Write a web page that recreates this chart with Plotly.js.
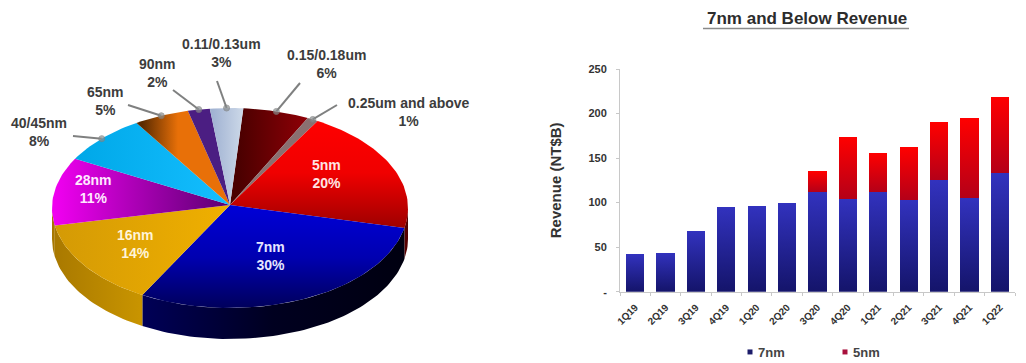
<!DOCTYPE html>
<html>
<head>
<meta charset="utf-8">
<script src="https://cdn.plot.ly/plotly-3.0.1.min.js"></script>
<style>html,body{margin:0;padding:0;background:#fff}#chart{width:1026px;height:363px}</style>
</head>
<body>
<div id="chart"></div>
<script>
// Revenue share by process node, clockwise from the top of the disc
const nodes = ['0.15/0.18um', '0.25um and above', '5nm', '7nm', '16nm', '28nm', '40/45nm', '65nm', '90nm', '0.11/0.13um'];
const shares = [6, 1, 20, 30, 14, 11, 8, 5, 2, 3];

// Quarterly 7nm and 5nm revenue in NT$B
const quarters = ['1Q19','2Q19','3Q19','4Q19','1Q20','2Q20','3Q20','4Q20','1Q21','2Q21','3Q21','4Q21','1Q22'];
const revenue7nm = [42, 44, 68, 95, 96, 100, 112, 104, 112, 103, 125, 105, 133];
const revenue5nm = [0, 0, 0, 0, 0, 0, 23, 70, 44, 59, 65, 90, 86];
const yTickValues = [0, 50, 100, 150, 200, 250];
const yTickLabels = ['-', '50', '100', '150', '200', '250'];

// Disc geometry, in the pixel-scaled units of the hidden pie axes
const disc = {cx: 230, cy: 208, rx: 178, ry: 100, depth: 31, apexY: 205, startDeg: 4.3};

// Gradient of each slice's top face and of its visible side wall
const faces = {
  '0.15/0.18um':      {type: 'horizontal', start: 238, stop: 305, colors: ['#4a0000', '#8c0006']},
  '0.25um and above': {type: 'horizontal', start: 300, stop: 330, colors: ['#8a7070', '#8a7070']},
  '5nm':              {type: 'vertical',   start: 120, stop: 226, colors: ['#ff0000', '#f00000', '#a00000']},
  '7nm':              {type: 'vertical',   start: 205, stop: 310, colors: ['#0000d8', '#0000b0', '#000058']},
  '16nm':             {type: 'horizontal', start: 55,  stop: 230, colors: ['#d49a05', '#f0b000']},
  '28nm':             {type: 'horizontal', start: 55,  stop: 230, colors: ['#f000f0', '#5a0070']},
  '40/45nm':          {type: 'horizontal', start: 78,  stop: 230, colors: ['#00a8e8', '#14beff']},
  '65nm':             {type: 'horizontal', start: 142, stop: 178, colors: ['#5a2a00', '#e87008']},
  '90nm':             {type: 'horizontal', start: 190, stop: 225, colors: ['#4b1e82', '#4b1e82']},
  '0.11/0.13um':      {type: 'horizontal', start: 212, stop: 243, colors: ['#a0b2d2', '#ccd8e8']}
};
const walls = {
  '5nm':  {start: 395, stop: 408, colors: ['#7a0000', '#500000']},
  '7nm':  {start: 140, stop: 405, colors: ['#000058', '#000020', '#000010']},
  '16nm': {start: 52,  stop: 140, colors: ['#a87800', '#c89400']},
  '28nm': {start: 52,  stop: 56,  colors: ['#a87800', '#a87800']}
};

// Where each label sits; outside labels also carry the outer end of their leader line
const placement = {
  '0.15/0.18um':      {x: 326, y: 64,  color: '#3c3c3c', lead: [300, 83]},
  '0.25um and above': {x: 409, y: 112, color: '#3c3c3c', lead: [337, 105]},
  '5nm':              {x: 326, y: 174, color: '#ffe4e4'},
  '7nm':              {x: 270, y: 256, color: '#e6e6ff'},
  '16nm':             {x: 135, y: 244, color: '#fff4d8'},
  '28nm':             {x: 93,  y: 189, color: '#ffe8ff'},
  '40/45nm':          {x: 39,  y: 132, color: '#3c3c3c', lead: [73, 136]},
  '65nm':             {x: 105, y: 101, color: '#3c3c3c', lead: [128, 105]},
  '90nm':             {x: 157, y: 73,  color: '#3c3c3c', lead: [173, 90]},
  '0.11/0.13um':      {x: 221, y: 53,  color: '#3c3c3c', lead: [217, 81]}
};

const rimPoint = (deg, drop) => {
  const t = deg * Math.PI / 180;
  return [disc.cx + disc.rx * Math.sin(t), disc.cy - disc.ry * Math.cos(t) + (drop || 0)];
};
const arc = (from, to, drop) => {
  const pts = [];
  const steps = Math.max(2, Math.ceil(Math.abs(to - from) / 1.5));
  for (let i = 0; i <= steps; i++) pts.push(rimPoint(from + (to - from) * i / steps, drop));
  return pts;
};
const gradient = g => ({
  type: g.type || 'horizontal',
  start: g.start,
  stop: g.stop,
  colorscale: g.colors.map((c, i) => [i / (g.colors.length - 1), c])
});
const polygon = (pts, g) => ({
  type: 'scatter', mode: 'lines', xaxis: 'x', yaxis: 'y',
  x: pts.map(p => p[0]), y: pts.map(p => p[1]),
  fill: 'toself', fillgradient: gradient(g),
  line: {width: 0}, showlegend: false, hoverinfo: 'skip'
});

const total = shares.reduce((a, b) => a + b, 0);
const wallTraces = [], faceTraces = [], leaderTraces = [], annotations = [];
let angle = disc.startDeg;
nodes.forEach((name, i) => {
  const sweep = shares[i] / total * 360;
  const from = angle, to = angle + sweep;
  angle = to;

  // Only the front half of the rim shows a side wall
  const wFrom = Math.max(from, 90), wTo = Math.min(to, 270);
  if (wTo > wFrom && walls[name]) {
    wallTraces.push(polygon(arc(wFrom, wTo, 0).concat(arc(wTo, wFrom, disc.depth)), walls[name]));
  }
  faceTraces.push(polygon([[disc.cx, disc.apexY]].concat(arc(from, to, 0)), faces[name]));

  const place = placement[name];
  annotations.push({
    xref: 'x', yref: 'y', x: place.x, y: place.y, xanchor: 'center', yanchor: 'middle',
    showarrow: false, align: 'center',
    text: name + '<br>' + shares[i] + '%',
    font: {family: 'Liberation Sans, Arial, sans-serif', size: 14, weight: 'bold', color: place.color}
  });
  if (place.lead) {
    const end = rimPoint((from + to) / 2, 0);
    leaderTraces.push({
      type: 'scatter', mode: 'lines+markers', xaxis: 'x', yaxis: 'y',
      x: [place.lead[0], end[0]], y: [place.lead[1], end[1]],
      line: {color: '#7f8080', width: 2},
      marker: {color: '#8a8f90', size: [0, 6]},
      showlegend: false, hoverinfo: 'skip'
    });
  }
});

const barTraces = [
  {type: 'bar', name: '7nm', x: quarters, y: revenue7nm, xaxis: 'x2', yaxis: 'y2', marker: {color: '#24249a'}, hoverinfo: 'x+y+name'},
  {type: 'bar', name: '5nm', x: quarters, y: revenue5nm, xaxis: 'x2', yaxis: 'y2', marker: {color: '#e00010'}, hoverinfo: 'x+y+name'}
];

annotations.push({
  xref: 'paper', yref: 'paper', x: 807 / 1026, y: 1 - 19 / 363, xanchor: 'center', yanchor: 'middle',
  showarrow: false,
  text: '7nm and Below Revenue',
  font: {family: 'Liberation Sans, Arial, sans-serif', size: 17, weight: 'bold', color: '#2c2c2c'}
});

const axisFont = {family: 'Liberation Sans, Arial, sans-serif', size: 10, weight: 'bold', color: '#333333'};
const layout = {
  width: 1026, height: 363,
  margin: {l: 0, r: 0, t: 0, b: 0, autoexpand: false},
  paper_bgcolor: '#ffffff', plot_bgcolor: 'rgba(0,0,0,0)',
  barmode: 'stack', bargap: 0.4,
  showlegend: true,
  legend: {
    orientation: 'h', traceorder: 'normal', x: 718 / 1026, y: 1 - 352 / 363, xanchor: 'left', yanchor: 'middle',
    entrywidth: 50, entrywidthmode: 'pixels', itemwidth: 30,
    font: {family: 'Liberation Sans, Arial, sans-serif', size: 13, weight: 'bold', color: '#444444'}
  },
  xaxis: {domain: [0, 0.5], range: [0, 513], visible: false, fixedrange: true},
  yaxis: {domain: [0, 1], range: [363, 0], visible: false, fixedrange: true},
  xaxis2: {
    domain: [620 / 1026, 1015 / 1026], anchor: 'y2', type: 'category',
    showline: true, linecolor: '#c8c8c8', linewidth: 1,
    ticks: 'outside', ticklen: 3, tickcolor: '#c8c8c8', tickson: 'boundaries',
    tickangle: -45, tickfont: axisFont, ticklabelstandoff: 5, showgrid: false, fixedrange: true
  },
  yaxis2: {
    domain: [1 - 291.7 / 363, 1 - 69 / 363], anchor: 'x2', range: [0, 250],
    tickmode: 'array', tickvals: yTickValues, ticktext: yTickLabels,
    showline: true, linecolor: '#c8c8c8', linewidth: 1,
    ticks: 'outside', ticklen: 3, tickcolor: '#c8c8c8', ticklabelstandoff: 7,
    tickfont: {family: 'Liberation Sans, Arial, sans-serif', size: 11, weight: 'bold', color: '#333333'},
    showgrid: false, zeroline: false, fixedrange: true,
    title: {text: 'Revenue (NT$B)', standoff: 23,
      font: {family: 'Liberation Sans, Arial, sans-serif', size: 15, weight: 'bold', color: '#333333'}}
  },
  shapes: [
    {type: 'line', xref: 'paper', yref: 'paper', x0: 703 / 1026, x1: 909 / 1026,
     y0: 1 - 28.5 / 363, y1: 1 - 28.5 / 363, line: {color: '#8a8a8a', width: 1.5}}
  ],
  annotations: annotations
};

// Small square legend swatches in the darker shade of each series
const swatchColors = ['#1c1c6a', '#a8103c'];
const styleSwatches = () => {
  document.querySelectorAll('.legend .legendpoints path').forEach((p, i) => {
    p.setAttribute('d', 'M2.5,2.5H-2.5V-2.5H2.5Z');
    p.setAttribute('transform', 'translate(32,0)');
    p.style.fill = swatchColors[i];
    p.style.stroke = 'none';
  });
};

const gd = document.getElementById('chart');
Plotly.newPlot(gd, wallTraces.concat(faceTraces, leaderTraces, barTraces), layout, {displayModeBar: false, staticPlot: true}).then(() => {
  // Shade the bars from a bright top to a darker foot
  const svg = gd.querySelector('.main-svg');
  const defs = svg.querySelector('defs');
  const NS = 'http://www.w3.org/2000/svg';
  const addBarGradient = (id, top, foot) => {
    const g = document.createElementNS(NS, 'linearGradient');
    g.setAttribute('id', id);
    g.setAttribute('x1', '0'); g.setAttribute('y1', '0');
    g.setAttribute('x2', '0'); g.setAttribute('y2', '1');
    [[0, top], [1, foot]].forEach(([o, c]) => {
      const s = document.createElementNS(NS, 'stop');
      s.setAttribute('offset', o); s.setAttribute('stop-color', c);
      g.appendChild(s);
    });
    defs.appendChild(g);
  };
  addBarGradient('shade7nm', '#3232be', '#14146a');
  addBarGradient('shade5nm', '#ff0000', '#b40018');
  const barGroups = gd.querySelectorAll('.barlayer .trace');
  ['shade7nm', 'shade5nm'].forEach((id, i) => {
    barGroups[i].querySelectorAll('.point path').forEach(p => { p.style.fill = 'url(#' + id + ')'; });
  });
  styleSwatches();
  setTimeout(styleSwatches, 0);
});
</script>
</body>
</html>
